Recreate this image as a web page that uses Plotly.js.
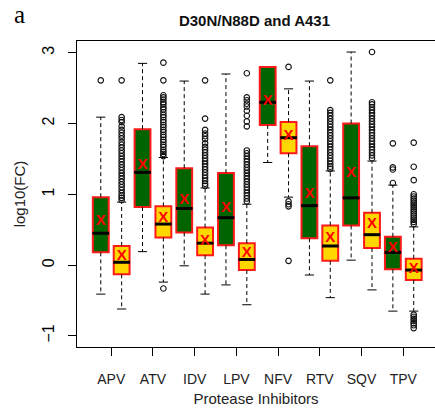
<!DOCTYPE html>
<html>
<head>
<meta charset="utf-8">
<script src="https://cdn.plot.ly/plotly-3.0.1.min.js"></script>
<style>
  html, body { margin: 0; padding: 0; background: #fff; overflow: hidden; }
  #chart { width: 435px; height: 415px; }
</style>
</head>
<body>
<div id="chart"></div>
<script>
// Protease inhibitors on the x axis
const drugs = ['APV', 'ATV', 'IDV', 'LPV', 'NFV', 'RTV', 'SQV', 'TPV'];

// First group (green boxes): log10 fold-change summaries
const aLowFence  = [-0.41, 0.19, -0.01, -0.28, 1.45, -0.14, 0.07, -0.65];
const aQ1        = [0.18, 0.82, 0.46, 0.28, 1.98, 0.38, 0.56, -0.06];
const aMedian    = [0.45, 1.31, 0.80, 0.67, 2.30, 0.84, 0.95, 0.18];
const aQ3        = [0.96, 1.92, 1.37, 1.30, 2.80, 1.68, 2.00, 0.40];
const aHighFence = [2.09, 2.85, 2.60, 2.70, 2.80, 2.60, 3.01, 1.13];
const aMean      = [0.62, 1.41, 0.92, 0.80, 2.31, 1.00, 1.30, 0.24];
const aOutliers  = [
  [2.61], [], [], [], [], [], [],
  [1.72, 1.38, 1.35, 1.16]
];

// Second group (yellow boxes)
const bLowFence  = [-0.62, -0.24, -0.41, -0.56, 0.96, -0.46, -0.35, -0.65];
const bQ1        = [-0.13, 0.39, 0.14, -0.07, 1.58, 0.06, 0.24, -0.21];
const bMedian    = [0.04, 0.58, 0.31, 0.08, 1.80, 0.27, 0.43, -0.07];
const bQ3        = [0.27, 0.83, 0.53, 0.31, 2.02, 0.56, 0.74, 0.09];
const bHighFence = [0.89, 1.52, 1.09, 0.86, 2.49, 1.33, 1.47, 0.54];
const bMean      = [0.12, 0.66, 0.34, 0.17, 1.82, 0.38, 0.58, -0.06];
const bOutliers  = [
  [2.61, 2.09, 2.05, 2.02, 1.96, 1.91, 1.87, 1.83, 1.79, 1.74, 1.70, 1.66, 1.62, 1.58, 1.54,
   1.50, 1.46, 1.42, 1.38, 1.34, 1.30, 1.26, 1.22, 1.18, 1.14, 1.10, 1.06, 1.02, 0.98, 0.95, 0.92],
  [2.86, 2.61, 2.40, 2.37, 2.34, 2.30, 2.27, 2.23, 2.20, 2.16, 2.12, 2.09, 2.05, 2.02, 1.98,
   1.95, 1.91, 1.88, 1.84, 1.81, 1.77, 1.74, 1.70, 1.67, 1.63, 1.60, 1.57, 1.54, -0.33],
  [2.61, 2.07, 1.91, 1.86, 1.82, 1.78, 1.72, 1.67, 1.63, 1.59, 1.55, 1.51, 1.47, 1.43, 1.39,
   1.35, 1.31, 1.27, 1.23, 1.19, 1.15, 1.12],
  [2.71, 2.37, 2.33, 2.28, 2.24, 2.18, 2.11, 2.03, 1.96, 1.62, 1.58, 1.54, 1.50, 1.46, 1.42,
   1.38, 1.34, 1.30, 1.26, 1.22, 1.18, 1.14, 1.10, 1.06, 1.02, 0.98, 0.94, 0.90],
  [2.80, 0.90, 0.86, 0.83, 0.06],
  [2.61, 2.19, 2.15, 2.11, 2.07, 2.03, 1.99, 1.95, 1.91, 1.87, 1.83, 1.79, 1.75, 1.71, 1.67,
   1.63, 1.59, 1.55, 1.51, 1.47, 1.43, 1.39, 1.36],
  [3.01, 2.30, 2.27, 2.23, 2.19, 2.15, 2.11, 2.07, 2.03, 1.99, 1.95, 1.91, 1.87, 1.83, 1.79,
   1.75, 1.71, 1.67, 1.63, 1.59, 1.55, 1.51],
  [1.73, 1.39, 1.20, 1.00, 0.97, 0.94, 0.91, 0.88, 0.85, 0.82, 0.79, 0.76, 0.73, 0.70, 0.67,
   0.64, 0.61, 0.58, -0.70, -0.73, -0.76, -0.79, -0.82, -0.85, -0.89]
];

const GREEN = '#006400';
const YELLOW = '#ffd700';
const RED = '#ff1a1a';
const BOX_W = 0.38;
const CAP_HALF = 0.11;
const MED_HALF = 0.2;

const groups = [
  {off: -0.25, fill: GREEN, lo: aLowFence, q1: aQ1, med: aMedian, q3: aQ3, hi: aHighFence, mean: aMean, out: aOutliers},
  {off: 0.25, fill: YELLOW, lo: bLowFence, q1: bQ1, med: bMedian, q3: bQ3, hi: bHighFence, mean: bMean, out: bOutliers}
];

const traces = [];
const whiskX = [], whiskY = [], capX = [], capY = [];
const medX = [], medY = [], meanX = [], meanY = [], outX = [], outY = [];

groups.forEach(g => {
  const xs = drugs.map((_, i) => i + 1 + g.off);
  // boxes from first to third quartile
  traces.push({
    type: 'bar', x: xs, base: g.q1, y: g.q3.map((v, i) => v - g.q1[i]),
    width: BOX_W, marker: {color: g.fill, line: {color: RED, width: 2}},
    hoverinfo: 'skip', showlegend: false
  });
  xs.forEach((x, i) => {
    const ends = [[g.q3[i], g.hi[i]], [g.q1[i], g.lo[i]]];
    ends.forEach(([from, to]) => {
      if (from === to) return;
      whiskX.push(x, x, null); whiskY.push(from, to, null);
      capX.push(x - CAP_HALF, x + CAP_HALF, null); capY.push(to, to, null);
    });
    medX.push(x - MED_HALF, x + MED_HALF, null); medY.push(g.med[i], g.med[i], null);
    meanX.push(x); meanY.push(g.mean[i]);
    g.out[i].forEach(v => { outX.push(x); outY.push(v); });
  });
});

traces.push({type: 'scatter', mode: 'lines', x: whiskX, y: whiskY,
  line: {color: '#000', width: 1, dash: '4px,3px'}, hoverinfo: 'skip', showlegend: false});
traces.push({type: 'scatter', mode: 'lines', x: capX, y: capY,
  line: {color: '#000', width: 1}, hoverinfo: 'skip', showlegend: false});
traces.push({type: 'scatter', mode: 'lines', x: medX, y: medY,
  line: {color: '#000', width: 3}, hoverinfo: 'skip', showlegend: false});
traces.push({type: 'scatter', mode: 'markers', x: outX, y: outY,
  marker: {symbol: 'circle-open', size: 5.5, color: '#111', line: {width: 1.1}},
  hoverinfo: 'skip', showlegend: false});
traces.push({type: 'scatter', mode: 'text', x: meanX, y: meanY,
  text: meanX.map(() => 'X'), textposition: 'middle center',
  textfont: {family: 'Liberation Sans, Arial, sans-serif', size: 15, color: '#ff0000', weight: 'bold'},
  hoverinfo: 'skip', showlegend: false});

const layout = {
  width: 435, height: 415,
  margin: {l: 77, r: 0, t: 41, b: 68},
  paper_bgcolor: '#fff', plot_bgcolor: '#fff',
  font: {family: 'Liberation Sans, Arial, sans-serif', color: '#000'},
  barmode: 'overlay',
  title: {
    text: '<b>D30N/N88D and A431</b>', font: {size: 15, color: '#111'},
    xref: 'container', yref: 'container', x: 0.585, y: 0.951,
    xanchor: 'center', yanchor: 'middle'
  },
  xaxis: {
    range: [0.18, 8.76], tickvals: drugs.map((_, i) => i + 1), ticktext: drugs,
    ticks: 'outside', ticklen: 8, tickcolor: '#000', tickfont: {size: 14, color: '#222'},
    ticklabelstandoff: 11,
    showline: true, mirror: true, linecolor: '#000', linewidth: 1,
    showgrid: false, zeroline: false,
    title: {text: 'Protease Inhibitors', font: {size: 15, color: '#222'}, standoff: 7}
  },
  yaxis: {
    range: [-1.157, 3.166], tickvals: [-1, 0, 1, 2, 3],
    ticks: 'outside', ticklen: 8, tickcolor: '#000', tickfont: {size: 16},
    tickangle: -90, ticklabelstandoff: 8,
    showline: true, mirror: false, linecolor: '#000', linewidth: 1,
    showgrid: false, zeroline: false,
    title: {text: 'log10(FC)', font: {size: 15, color: '#222'}, standoff: 10}
  },
  annotations: [{
    text: 'a', xref: 'paper', yref: 'paper', x: -0.16, y: 1.088,
    xanchor: 'center', yanchor: 'middle', showarrow: false,
    font: {family: 'Liberation Serif, Times New Roman, serif', size: 25, color: '#000'}
  }]
};

Plotly.newPlot('chart', traces, layout, {displayModeBar: false, staticPlot: true});
</script>
</body>
</html>
